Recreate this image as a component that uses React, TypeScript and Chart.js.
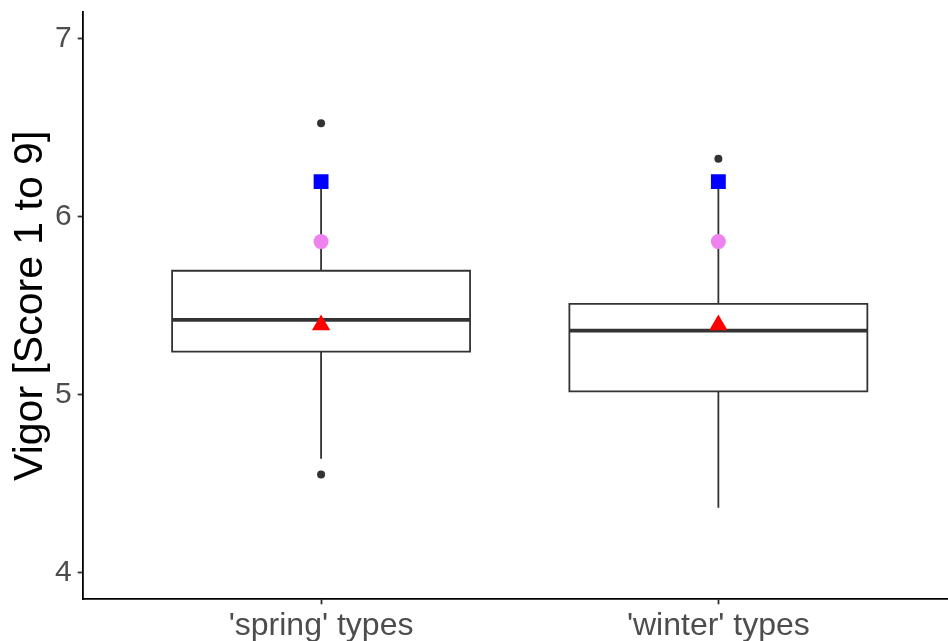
import React, { useEffect, useRef } from "react";
import { Chart, registerables } from "chart.js";

Chart.register(...registerables);

// Group labels along the x axis
const categories = ["'spring' types", "'winter' types"];

// Five-number summaries per group
const lowerWhisker = [4.64, 4.365];
const lowerQuartile = [5.242, 5.019];
const medianValue = [5.421, 5.36];
const upperQuartile = [5.697, 5.511];
const upperWhisker = [6.2, 6.2];

// Points beyond the whiskers
const outlierValues = [[4.551, 6.526], [6.326]];

// Summary markers drawn on each box
const meanValue = [5.392, 5.392];
const circleValue = [5.861, 5.861];
const squareValue = [6.198, 6.198];

// Y axis ticks and title
const yTicks = [4, 5, 6, 7];
const yTitle = "Vigor [Score 1 to 9]";

const FONT = "'Liberation Sans', Arial, Helvetica, sans-serif";
const INK = "#333333";
const BOX_HALF = 0.375;

function segment(points: { x: number; y: number }[], width: number) {
  return {
    type: "scatter",
    data: points,
    showLine: true,
    borderColor: INK,
    borderWidth: width,
    borderCapStyle: "square",
    borderJoinStyle: "miter",
    pointRadius: 0,
    pointHoverRadius: 0,
    fill: false,
    tension: 0,
  };
}

function buildDatasets() {
  const ds: any[] = [];
  const at = (vals: number[]) => vals.map((v, i) => ({ x: i + 1, y: v }));

  // markers (first = drawn on top)
  ds.push({
    type: "scatter",
    data: at(meanValue),
    pointStyle: "triangle",
    pointRadius: 10.6,
    pointBackgroundColor: "#FF0000",
    pointBorderColor: "#FF0000",
    pointBorderWidth: 0,
  });
  ds.push({
    type: "scatter",
    data: at(squareValue),
    pointStyle: "rect",
    pointRadius: 10.5,
    pointBackgroundColor: "#0000FF",
    pointBorderColor: "#0000FF",
    pointBorderWidth: 0,
  });
  ds.push({
    type: "scatter",
    data: at(circleValue),
    pointStyle: "circle",
    pointRadius: 7.5,
    pointBackgroundColor: "#EE82EE",
    pointBorderColor: "#EE82EE",
    pointBorderWidth: 0,
  });
  ds.push({
    type: "scatter",
    data: outlierValues.flatMap((vals, i) => vals.map((v) => ({ x: i + 1, y: v }))),
    pointStyle: "circle",
    pointRadius: 4,
    pointBackgroundColor: INK,
    pointBorderColor: INK,
    pointBorderWidth: 0,
  });

  categories.forEach((_, i) => {
    const c = i + 1;
    const x0 = c - BOX_HALF;
    const x1 = c + BOX_HALF;
    // median bar
    ds.push({
      ...segment(
        [
          { x: x0, y: medianValue[i] },
          { x: x1, y: medianValue[i] },
        ],
        3.8
      ),
      borderCapStyle: "butt",
    });
    // box outline
    ds.push(
      segment(
        [
          { x: x0, y: lowerQuartile[i] },
          { x: x1, y: lowerQuartile[i] },
          { x: x1, y: upperQuartile[i] },
          { x: x0, y: upperQuartile[i] },
          { x: x0, y: lowerQuartile[i] },
        ],
        1.8
      )
    );
    // whiskers
    ds.push({
      ...segment(
        [
          { x: c, y: upperQuartile[i] },
          { x: c, y: upperWhisker[i] },
        ],
        1.8
      ),
      borderCapStyle: "butt",
    });
    ds.push({
      ...segment(
        [
          { x: c, y: lowerQuartile[i] },
          { x: c, y: lowerWhisker[i] },
        ],
        1.8
      ),
      borderCapStyle: "butt",
    });
  });
  return ds;
}

export default function App() {
  const canvasRef = useRef<HTMLCanvasElement | null>(null);

  useEffect(() => {
    const canvas = canvasRef.current;
    if (!canvas) return;
    const chart = new Chart(canvas, {
      type: "scatter",
      data: { datasets: buildDatasets() },
      options: {
        animation: false,
        responsive: false,
        devicePixelRatio: 1,
        events: [],
        layout: { autoPadding: false, padding: { top: 12.3, right: 0, bottom: 0, left: 0 } },
        plugins: {
          legend: { display: false },
          tooltip: { enabled: false },
        },
        scales: {
          x: {
            type: "linear",
            min: 0.4,
            max: 2.578,
            afterBuildTicks: (s: any) => {
              s.ticks = categories.map((_, i) => ({ value: i + 1 }));
            },
            afterFit: (s: any) => {
              s.height = 41.7;
              s.paddingLeft = 0;
              s.paddingRight = 0;
            },
            ticks: {
              autoSkip: false,
              maxRotation: 0,
              minRotation: 0,
              padding: 6,
              color: "#4D4D4D",
              font: { family: FONT, size: 32, lineHeight: 1 },
              callback: (v: any) => categories[Math.round(Number(v)) - 1] ?? "",
            },
            grid: {
              display: true,
              drawOnChartArea: false,
              drawTicks: true,
              tickLength: 5,
              tickColor: INK,
              tickWidth: 1.8,
            },
            border: { display: true, color: "#000000", width: 1.8 },
          },
          y: {
            type: "linear",
            min: 3.85,
            max: 7.15,
            afterBuildTicks: (s: any) => {
              s.ticks = yTicks.map((v) => ({ value: v }));
            },
            afterFit: (s: any) => {
              s.width = 82.7;
              s.paddingTop = 0;
              s.paddingBottom = 0;
            },
            ticks: {
              padding: 6,
              color: "#4D4D4D",
              font: { family: FONT, size: 30, lineHeight: 1 },
              callback: (v: any) => String(v),
            },
            grid: {
              display: true,
              drawOnChartArea: false,
              drawTicks: true,
              tickLength: 5,
              tickColor: INK,
              tickWidth: 1.8,
            },
            border: { display: true, color: "#000000", width: 1.8 },
            title: {
              display: true,
              text: yTitle,
              color: "#000000",
              font: { family: FONT, size: 41, lineHeight: 1 },
              padding: { top: 10.5, bottom: 0 },
            },
          },
        },
      } as any,
    });
    return () => chart.destroy();
  }, []);

  return (
    <div style={{ position: "absolute", left: 0, top: 0, width: 948, height: 641, background: "#ffffff" }}>
      <canvas ref={canvasRef} width={948} height={641} />
    </div>
  );
}
